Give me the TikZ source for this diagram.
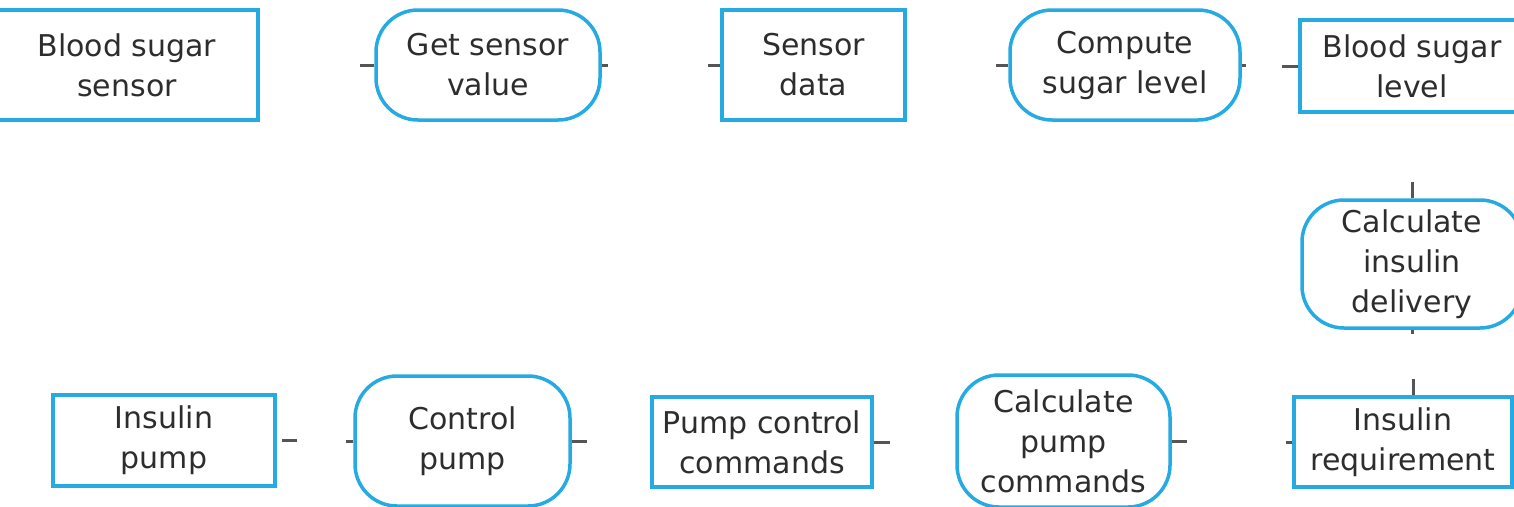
\documentclass[tikz,border=0pt]{standalone}
\usepackage{fontspec}
\setmainfont{DejaVu Sans}
\definecolor{flowblue}{RGB}{38,170,226}
\definecolor{stubgrey}{RGB}{85,85,85}
\definecolor{labelgrey}{RGB}{45,45,45}

\begin{document}
\begin{tikzpicture}[x=1pt,y=-1pt,
  data node/.style={rectangle,draw=flowblue,line width=3.5pt,inner sep=0pt,
    align=center,text=labelgrey,font=\fontsize{30}{40}\selectfont},
  proc node/.style={data node,rounded corners=42pt},
  stub line/.style={draw=stubgrey,line width=3pt}]

  \useasboundingbox (0,0) rectangle (1514,506);

  % top row
  \node[data node,minimum width=262,minimum height=110] (bss) at (127,65) {Blood sugar\\sensor};
  \node[proc node,minimum width=224,minimum height=110] (gsv) at (488,65) {Get sensor\\value};
  \node[data node,minimum width=183,minimum height=110] (sd) at (813.5,65) {Sensor\\data};
  \node[proc node,minimum width=230,minimum height=110] (csl) at (1125,65) {Compute\\sugar level};
  \node[data node,minimum width=224,minimum height=92] (bsl) at (1412,66) {Blood sugar\\level};

  % right column
  \node[proc node,minimum width=220,minimum height=128] (cid) at (1412,264) {Calculate\\insulin\\delivery};
  \node[data node,minimum width=218,minimum height=90] (ir) at (1403,442) {Insulin\\requirement};

  % bottom row
  \node[proc node,minimum width=213,minimum height=132] (cpc) at (1063.5,441) {Calculate\\pump\\commands};
  \node[data node,minimum width=220,minimum height=90] (pcc) at (762,442) {Pump control\\commands};
  \node[proc node,minimum width=215,minimum height=130] (cp) at (462.5,441) {Control\\pump};
  \node[data node,minimum width=222,minimum height=91] (ip) at (164,440.5) {Insulin\\pump};

  \path[stub line]
    (gsv.west) -- ++(-14,0)
    (gsv.east) -- ++(6,0)
    (sd.west) -- ++(-12,0)
    (csl.west) -- ++(-12,0)
    (csl.east) -- ++(4,0)
    (bsl.west) -- ++(-16,0)
    (cid.north) -- ++(0,-16)
    (cid.south) -- ++(0,4)
    ([xshift=10]ir.north) -- ++(0,-16)
    (ir.west) -- ++(-6,0)
    (cpc.east) -- ++(15,0)
    (pcc.east) -- ++(16,0)
    (cp.east) -- ++(15,0)
    (cp.west) -- ++(-7,0)
    ([xshift=5]ip.east) -- ++(15,0);

\end{tikzpicture}
\end{document}
